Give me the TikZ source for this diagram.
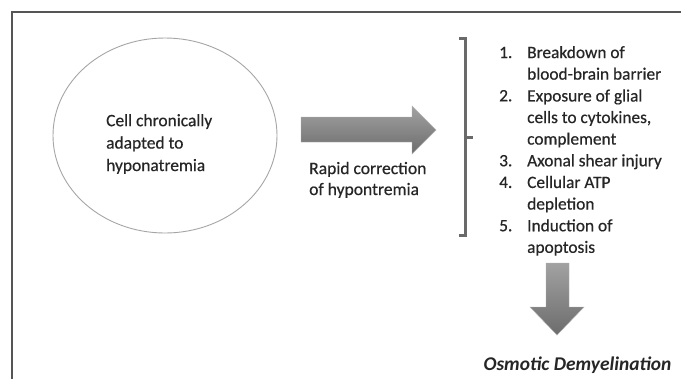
\documentclass[tikz,border=0pt]{standalone}
\usepackage{fontspec}
\setmainfont{Carlito}
\newfontfamily\heavy{Carlito}[FakeBold=0.5]
\usetikzlibrary{shapes.geometric,calc}
\definecolor{framegray}{HTML}{555555}
\definecolor{txtgray}{HTML}{262626}
\definecolor{brgray}{HTML}{6A6A6A}
\definecolor{arrtop}{HTML}{A2A2A2}
\definecolor{arrbot}{HTML}{6C6C6C}
\tikzset{
  frameline/.style={draw=framegray, line width=1.5bp},
  cellshape/.style={ellipse, draw=gray!70, line width=0.9bp, minimum width=224bp, minimum height=195bp, inner sep=0},
  txt/.style={text=txtgray, font=\heavy\fontsize{17.5}{22.5}\selectfont, align=left, inner sep=0, anchor=base west},
  listtxt/.style={text=txtgray, font=\heavy\fontsize{17.4}{21.65}\selectfont, align=left, inner sep=0, anchor=base west},
  blockarrow/.style={top color=arrtop, bottom color=arrbot, draw=gray!60, line width=0.4bp},
  bracketline/.style={draw=brgray, line width=3bp},
}
\begin{document}
\begin{tikzpicture}[x=1bp, y=-1bp]
\useasboundingbox (0,0) rectangle (681,379);
\fill[white] (0,0) rectangle (681,379);
% frame
\draw[frameline] (681,12) -- (12,12) -- (12,379);
% cell (base anchor = baseline of last line)
\node[cellshape] (cell) at (165,135.5) {};
\node[txt] (celltxt) at (106,171) {Cell chronically\\adapted to\\hyponatremia};
% right block arrow
\path[blockarrow] (301,117) -- (412,117) -- (412,106) -- (436,130) -- (412,154) -- (412,142) -- (301,142) -- cycle;
\node[txt, font=\heavy\fontsize{17.6}{21}\selectfont] (rapid) at (309,195) {Rapid correction\\of hypontremia};
% bracket
\coordinate (bt) at (465,38);
\coordinate (bb) at (465,235);
\coordinate (bm) at (465,137);
\draw[bracketline] ($(bt)+(-6,0)$) -- (bt) -- (bb) -- ($(bb)+(-6,0)$);
\draw[bracketline] (bm) -- ++(8,0);
% list
\node[listtxt] (n1) at (499,58) {1.};
\node[listtxt] (i1) at (527,79.65) {Breakdown of\\blood-brain barrier};
\node[listtxt] (n2) at (499,101.3) {2.};
\node[listtxt] (i2) at (527,144.6) {Exposure of glial\\cells to cytokines,\\complement};
\node[listtxt] (n3) at (499,166.25) {3.};
\node[listtxt] (i3) at (527,166.25) {Axonal shear injury};
\node[listtxt] (n4) at (499,187.9) {4.};
\node[listtxt] (i4) at (527,209.55) {Cellular ATP\\depletion};
\node[listtxt] (n5) at (499,231.2) {5.};
\node[listtxt] (i5) at (527,252.85) {Induction of\\apoptosis};
% down block arrow
\path[blockarrow] (546,263) -- (569,263) -- (569,307) -- (584,307) -- (557,335) -- (530,307) -- (546,307) -- cycle;
\node[text=txtgray, font=\fontsize{19.5}{22}\selectfont\bfseries\itshape, inner sep=0] (osm) at (577.5,365) {Osmotic Demyelination};
\end{tikzpicture}
\end{document}
